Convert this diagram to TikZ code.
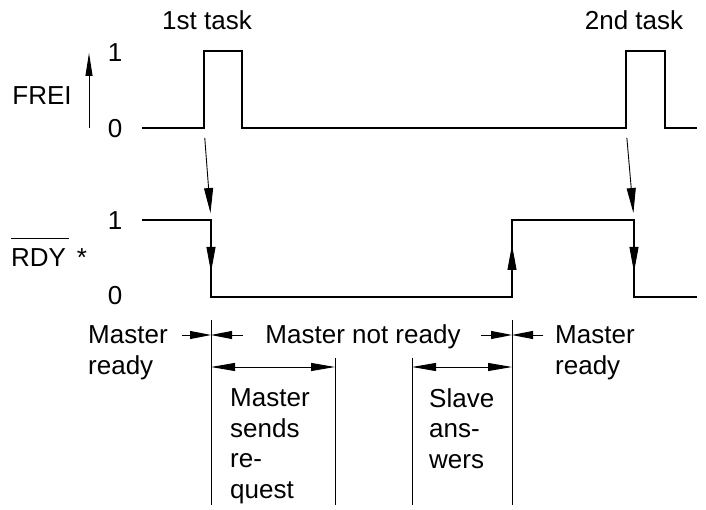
\documentclass[tikz,border=0pt]{standalone}
\usepackage{fontspec}
\setmainfont{Liberation Sans}
\usetikzlibrary{arrows.meta}

\begin{document}
\begin{tikzpicture}[x=1pt,y=-1pt,
        txt/.style={font=\fontsize{26}{30.5}\selectfont, inner sep=0pt},
        signal/.style={line width=2.4pt},
        guide/.style={line width=0.9pt},
        head/.style={-{Triangle[length=25pt,width=9pt]}},
        inhead/.style={-{Triangle[length=21pt,width=8pt]}},
        dim/.style={{Triangle[length=24pt,width=8pt]}-{Triangle[length=24pt,width=8pt]}}]
        \useasboundingbox (0,0) rectangle (706,510);

        \node[txt,anchor=base] (task-one) at (207,30) {1st task};
        \node[txt,anchor=base] (task-two) at (634,30) {2nd task};

        \node[txt,anchor=base] (frei-one) at (115,62) {1};
        \node[txt,anchor=base] (frei-zero) at (115,138) {0};
        \node[txt,anchor=base] (frei) at (42,105) {FREI};
        \coordinate (axis-low) at (89,128);
        \coordinate (axis-high) at (89,53);
        \draw[guide,-{Triangle[length=23pt,width=7pt]}] (axis-low) -- (axis-high);

        \draw[signal] (142,128) -- (204,128) -- (204,51) -- (242,51) -- (242,128)
             -- (626,128) -- (626,51) -- (665,51) -- (665,128) -- (697,128);
        \coordinate (frei-rise-one) at (204,128);
        \coordinate (frei-rise-two) at (626,128);

        \node[txt,anchor=base] (rdy-one) at (115,230) {1};
        \node[txt,anchor=base] (rdy-zero) at (115,305) {0};
        \node[txt,anchor=base] (rdy) at (40,267) {\vbox{\hrule height 1.2pt \kern 10pt \hbox{RDY\kern3pt}}};
        \node[txt,anchor=base] (star) at (82,267) {*};

        \draw[signal] (142,220) -- (211,220) -- (211,297) -- (512,297) -- (512,220)
             -- (634,220) -- (634,297) -- (697,297);
        \coordinate (rdy-fall-one) at (211,220);
        \coordinate (rdy-rise) at (512,297);
        \coordinate (rdy-fall-two) at (634,220);

        \draw[guide,head,shorten <=10pt,shorten >=7pt] (frei-rise-one) -- (rdy-fall-one);
        \draw[guide,head,shorten <=10pt,shorten >=7pt] (frei-rise-two) -- (rdy-fall-two);
        \draw[guide,head] (rdy-fall-one) -- (211,272);
        \draw[guide,head] (rdy-rise) -- (512,245);
        \draw[guide,head] (rdy-fall-two) -- (634,272);

        \coordinate (mark-a) at (211,320);
        \coordinate (mark-b) at (335,358);
        \coordinate (mark-c) at (412,358);
        \coordinate (mark-d) at (512,320);
        \draw[guide] (mark-a) -- (211,505);
        \draw[guide] (mark-b) -- (335,505);
        \draw[guide] (mark-c) -- (412,505);
        \draw[guide] (mark-d) -- (512,505);

        \draw[guide,inhead] (182,335) -- (211,335);
        \draw[guide,inhead] (243,335) -- (211,335);
        \draw[guide,inhead] (481,335) -- (512,335);
        \draw[guide,inhead] (543,335) -- (512,335);
        \draw[guide,dim] (211,367) -- (335,367);
        \draw[guide,dim] (412,367) -- (512,367);

        \node[txt,anchor=base west,align=left] (ready-left) at (88,374) {Master\\ready};
        \node[txt,anchor=base] (not-ready) at (363,343) {Master not ready};
        \node[txt,anchor=base west,align=left] (ready-right) at (555,374) {Master\\ready};
        \node[txt,anchor=base west,align=left] (sends) at (230,498) {Master\\sends\\re-\\quest};
        \node[txt,anchor=base west,align=left] (answers) at (429,468) {Slave\\ans-\\wers};
\end{tikzpicture}
\end{document}
